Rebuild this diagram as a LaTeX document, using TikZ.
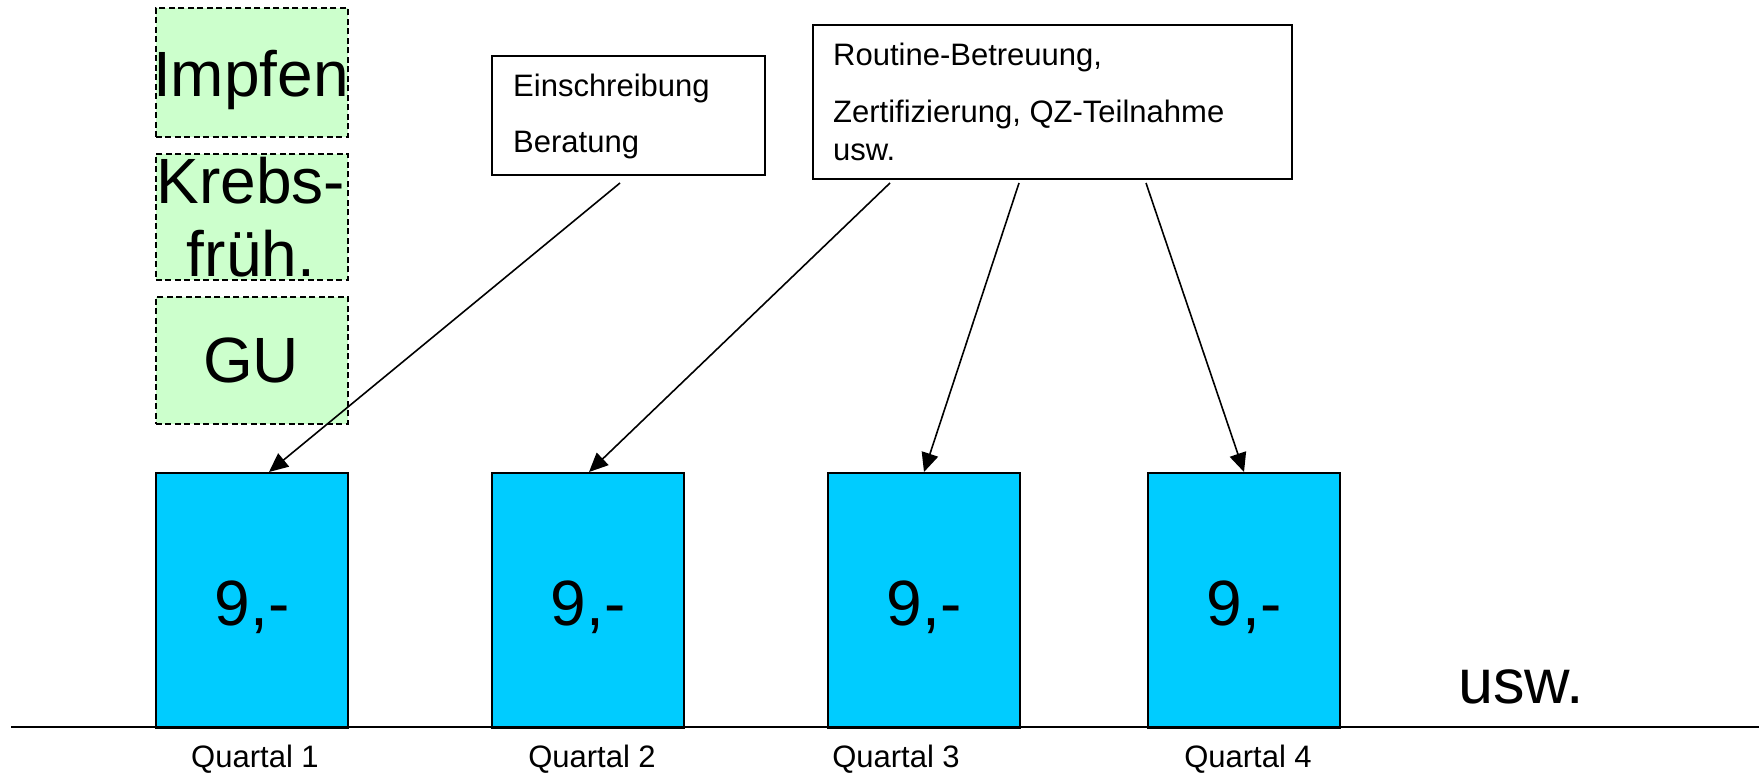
\documentclass[tikz,border=0pt]{standalone}
\usepackage{fontspec}
\setmainfont{Liberation Sans}
\usetikzlibrary{arrows.meta}

\definecolor{greenfill}{HTML}{CCFFCC}
\definecolor{barfill}{HTML}{00CCFF}

\tikzset{
  gbox/.style={draw=black, fill=greenfill, line width=1.8pt, dash pattern=on 6pt off 3.5pt,
    minimum width=192pt, inner sep=0pt, anchor=north west},
  bar/.style={draw=black, fill=barfill, line width=2pt, minimum width=192pt,
    minimum height=255pt, inner sep=0pt, anchor=north west},
  note/.style={draw=black, fill=white, line width=1.8pt, inner sep=0pt, anchor=north west},
  big/.style={font=\fontsize{64}{74}\selectfont, inner sep=0pt, anchor=base},
  small/.style={font=\fontsize{31}{36}\selectfont, inner sep=0pt, anchor=base},
  smallleft/.style={small, anchor=base west},
  pointer/.style={line width=1.6pt, -{Triangle[length=19pt,width=17pt]}}
}

\begin{document}
\begin{tikzpicture}[x=1pt, y=-1pt]
  \useasboundingbox (0,0) rectangle (1759,775);

  % dashed green service boxes
  \node[gbox, minimum height=129pt] (impf) at (155,7) {};
  \node[gbox, minimum height=126pt] (krebs) at (155,153) {};
  \node[gbox, minimum height=127pt] (gu) at (155,296) {};
  \node[big] (timpf) at (251,97) {Impfen};
  \node[big] (tkrebs1) at (251,204) {Krebs-};
  \node[big] (tkrebs2) at (251,277) {früh.};
  \node[big] (tgu) at (251,383) {GU};

  % note boxes
  \node[note, minimum width=273pt, minimum height=119pt] (einb) at (491,55) {};
  \node[smallleft] (teinb1) at (513,97) {Einschreibung};
  \node[smallleft] (teinb2) at (513,153) {Beratung};

  \node[note, minimum width=479pt, minimum height=154pt] (rout) at (812,24) {};
  \node[smallleft] (trout1) at (833,66) {Routine-Betreuung,};
  \node[smallleft] (trout2) at (833,123) {Zertifizierung, QZ-Teilnahme};
  \node[smallleft] (trout3) at (833,161) {usw.};

  % quarterly bars
  \node[bar] (bar1) at (155,472) {};
  \node[bar] (bar2) at (491,472) {};
  \node[bar] (bar3) at (827,472) {};
  \node[bar] (bar4) at (1147,472) {};
  \node[big] (v1) at (bar1.center |- 0,625) {9,-};
  \node[big] (v2) at (bar2.center |- 0,625) {9,-};
  \node[big] (v3) at (bar3.center |- 0,625) {9,-};
  \node[big] (v4) at (bar4.center |- 0,625) {9,-};

  % base line and quarter labels
  \coordinate (axl) at (11,727);
  \coordinate (axr) at (1759,727);
  \draw[line width=2pt] (axl) -- (axr);
  \node[small] (q1) at (255,767) {Quartal 1};
  \node[small] (q2) at (592,767) {Quartal 2};
  \node[small] (q3) at (896,767) {Quartal 3};
  \node[small] (q4) at (1248,767) {Quartal 4};
  \node[big, anchor=base west, font=\fontsize{63}{72}\selectfont] (etc) at (1458,703) {usw.};

  % pointers from the notes to the quarters
  \coordinate (s1) at (620,183);
  \coordinate (s2) at (890,183);
  \coordinate (s3) at (1019,183);
  \coordinate (s4) at (1146,183);
  \draw[pointer] (s1) -- ([xshift=17pt]bar1.north);
  \draw[pointer] (s2) -- ([xshift=1pt]bar2.north);
  \draw[pointer] (s3) -- (bar3.north);
  \draw[pointer] (s4) -- (bar4.north);
\end{tikzpicture}
\end{document}
